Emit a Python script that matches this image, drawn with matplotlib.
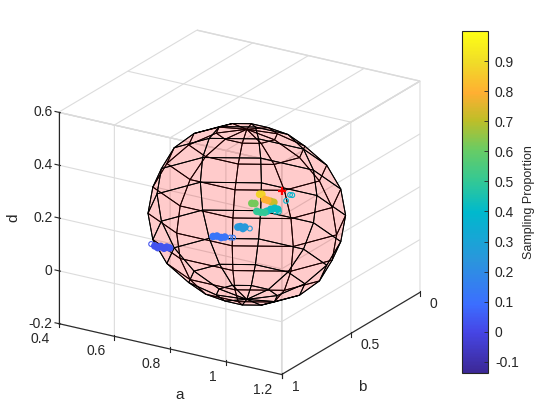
import numpy as np
from matplotlib import pyplot as plt
from matplotlib.colors import LinearSegmentedColormap
from mpl_toolkits.mplot3d import proj3d

plt.rcParams['font.family'] = ['Liberation Sans', 'DejaVu Sans']
TXT = '#262626'

# sphere centre / radius in data units, 10 mesh faces like matlab's sphere(10)
centre = [0.827, 0.5, 0.161]
radius = 0.322
n_faces = 10

a_ticks = [0.4, 0.6, 0.8, 1, 1.2]
b_ticks = [0, 0.5, 1]
d_ticks = [-0.2, 0, 0.2, 0.4, 0.6]
a_labels = ['0.4', '0.6', '0.8', '1', '1.2']
b_labels = ['0', '0.5', '1']
d_labels = ['-0.2', '0', '0.2', '0.4', '0.6']
cbar_ticks = [-0.1, 0, 0.1, 0.2, 0.3, 0.4, 0.5, 0.6, 0.7, 0.8, 0.9]
cbar_labels = ['-0.1', '0', '0.1', '0.2', '0.3', '0.4', '0.5', '0.6', '0.7', '0.8', '0.9']

# sampled points, filled clusters
a_pts = [0.497, 0.508, 0.518, 0.530, 0.540, 0.550,
         0.706, 0.720, 0.735, 0.748,
         0.795, 0.804, 0.813, 0.820,
         0.863, 0.877, 0.891,
         0.899, 0.913, 0.927, 0.938,
         0.845, 0.856,
         0.873, 0.881,
         0.891, 0.902,
         0.913, 0.924]
d_pts = [-0.038, -0.042, -0.035, -0.039, -0.032, -0.033,
         0.048, 0.053, 0.051, 0.056,
         0.105, 0.109, 0.104, 0.111,
         0.181, 0.181, 0.184,
         0.190, 0.201, 0.208, 0.207,
         0.207, 0.209,
         0.248, 0.250,
         0.233, 0.232,
         0.231, 0.230]
v_pts = [0.03, 0.03, 0.03, 0.03, 0.04, 0.04,
         0.12, 0.12, 0.12, 0.12,
         0.25, 0.25, 0.25, 0.25,
         0.50, 0.50, 0.50,
         0.42, 0.42, 0.42, 0.42,
         0.62, 0.62,
         0.88, 0.88,
         0.80, 0.80,
         0.72, 0.72]
b_pts = [0.5] * len(a_pts)

# the stray open markers
a_open = [0.484, 0.768, 0.778, 0.838, 0.982, 0.990, 0.968, 0.930, 0.942]
d_open = [-0.034, 0.059, 0.061, 0.110, 0.272, 0.273, 0.246, 0.196, 0.199]
v_open = [0.03, 0.14, 0.14, 0.26, 0.38, 0.38, 0.38, 0.42, 0.42]
b_open = [0.5] * len(a_open)

a_best, b_best, d_best = 0.952, 0.5, 0.281

cmap_pos = [0, 0.12, 0.2, 0.33, 0.47, 0.56, 0.65, 0.74, 0.82, 0.91, 1]
cmap_cols = ['#3c2896', '#4646e6', '#3c6eff', '#2a96dc', '#00b9cd', '#32c896',
             '#66cc66', '#bebe28', '#ffaf32', '#f0dc28', '#ffff14']
parula2 = LinearSegmentedColormap.from_list('parula2', list(zip(cmap_pos, cmap_cols)))
vmin, vmax = -0.137, 1.0

fig = plt.figure(figsize=(5.6, 4.2), dpi=100, facecolor='white')
ax = fig.add_axes([4 / 560, 2 / 420, 0.82, 1.0], projection='3d', proj_type='ortho',
                  computed_zorder=False)
ax.view_init(elev=-21.6, azim=-121.8)
ax.set_box_aspect((1, 1, 0.866), zoom=1.006)
ax.set_xlim(0.4, 1.2, view_margin=0)
ax.set_ylim(0, 1, view_margin=0)
ax.set_zlim(-0.2, 0.6, view_margin=0)

for axis in (ax.xaxis, ax.yaxis, ax.zaxis):
    axis.set_pane_color((1, 1, 1, 1))
    axis.pane.set_edgecolor('#d9d9d9')
    axis._axinfo['grid']['color'] = '#dcdcdc'
    axis._axinfo['grid']['linewidth'] = 0.8
    axis.line.set_color('#262626')
    axis.line.set_linewidth(0.8)
    axis.set_tick_params(color=TXT)
    axis.set_ticks_position('lower')

ax.zaxis.set_ticks_position('upper')
ax.set_xticks(a_ticks)
ax.set_xticklabels([''] * len(a_ticks))
ax.set_yticks(b_ticks)
ax.set_yticklabels([''] * len(b_ticks))
ax.set_zticks(d_ticks)
ax.set_zticklabels([''] * len(d_ticks))

# tick labels placed by hand from the projected tick positions, mplot3d's own
# ones can't be pushed sideways the way matlab has them
def label3d(a, b, d, s, dx, dy, **kw):
    x2, y2, _ = proj3d.proj_transform(a, b, d, ax.get_proj())
    ax.annotate(s, xy=(x2, y2), xytext=(dx, dy), textcoords='offset pixels',
                color=TXT, annotation_clip=False, **kw)

for val, s in zip(a_ticks, a_labels):
    label3d(val, 1, -0.2, s, -9, -15, ha='right', va='center', fontsize=10)
for val, s in zip(b_ticks, b_labels):
    label3d(1.2, val, -0.2, s, 10, -12, ha='left', va='center', fontsize=10)
for val, s in zip(d_ticks, d_labels):
    label3d(0.4, 1, val, s, -6, 0, ha='right', va='center', fontsize=10)
label3d(0.8, 1, -0.2, 'a', 10, -46, ha='center', va='center', fontsize=11)
label3d(1.2, 0.5, -0.2, 'b', 11, -54, ha='center', va='center', fontsize=11)
label3d(0.4, 1, 0.2, 'd', -45, 0, ha='center', va='center', fontsize=11, rotation=90)

u = np.linspace(-np.pi, np.pi, n_faces + 1)
w = np.linspace(-np.pi / 2, np.pi / 2, n_faces + 1)
X = centre[0] + radius * np.outer(np.cos(w), np.cos(u))
Y = centre[1] + radius * np.outer(np.cos(w), np.sin(u))
Z = centre[2] + radius * np.outer(np.sin(w), np.ones_like(u))
ax.plot_surface(X, Y, Z, rstride=1, cstride=1, color=(1, 0, 0, 0.106),
                edgecolor='black', linewidth=0.7, shade=False, zorder=1)

sc = ax.scatter(a_pts, b_pts, d_pts, c=v_pts, cmap=parula2, vmin=vmin, vmax=vmax,
                s=30, depthshade=False, linewidths=0, zorder=2)
open_cols = parula2((np.array(v_open) - vmin) / (vmax - vmin))
ax.scatter(a_open, b_open, d_open, s=12, depthshade=False, marker='o',
           facecolors='none', edgecolors=open_cols, linewidths=0.8, zorder=2)
ax.scatter([a_best], [b_best], [d_best], c='red', marker='+', s=30,
           linewidths=1.6, depthshade=False, zorder=3)

cax = fig.add_axes([462 / 560, 1 - 373 / 420, 26 / 560, 342 / 420])
cb = fig.colorbar(sc, cax=cax)
cb.set_ticks(cbar_ticks)
cb.set_ticklabels(cbar_labels)
cb.ax.tick_params(direction='in', length=3, width=0.6, labelsize=10, labelcolor=TXT, color=TXT, pad=5)
cb.outline.set_edgecolor(TXT)
cb.outline.set_linewidth(0.8)
cb.set_label('Sampling Proportion', fontsize=9, color=TXT, labelpad=3)

fig.savefig('out.png', dpi=100)
